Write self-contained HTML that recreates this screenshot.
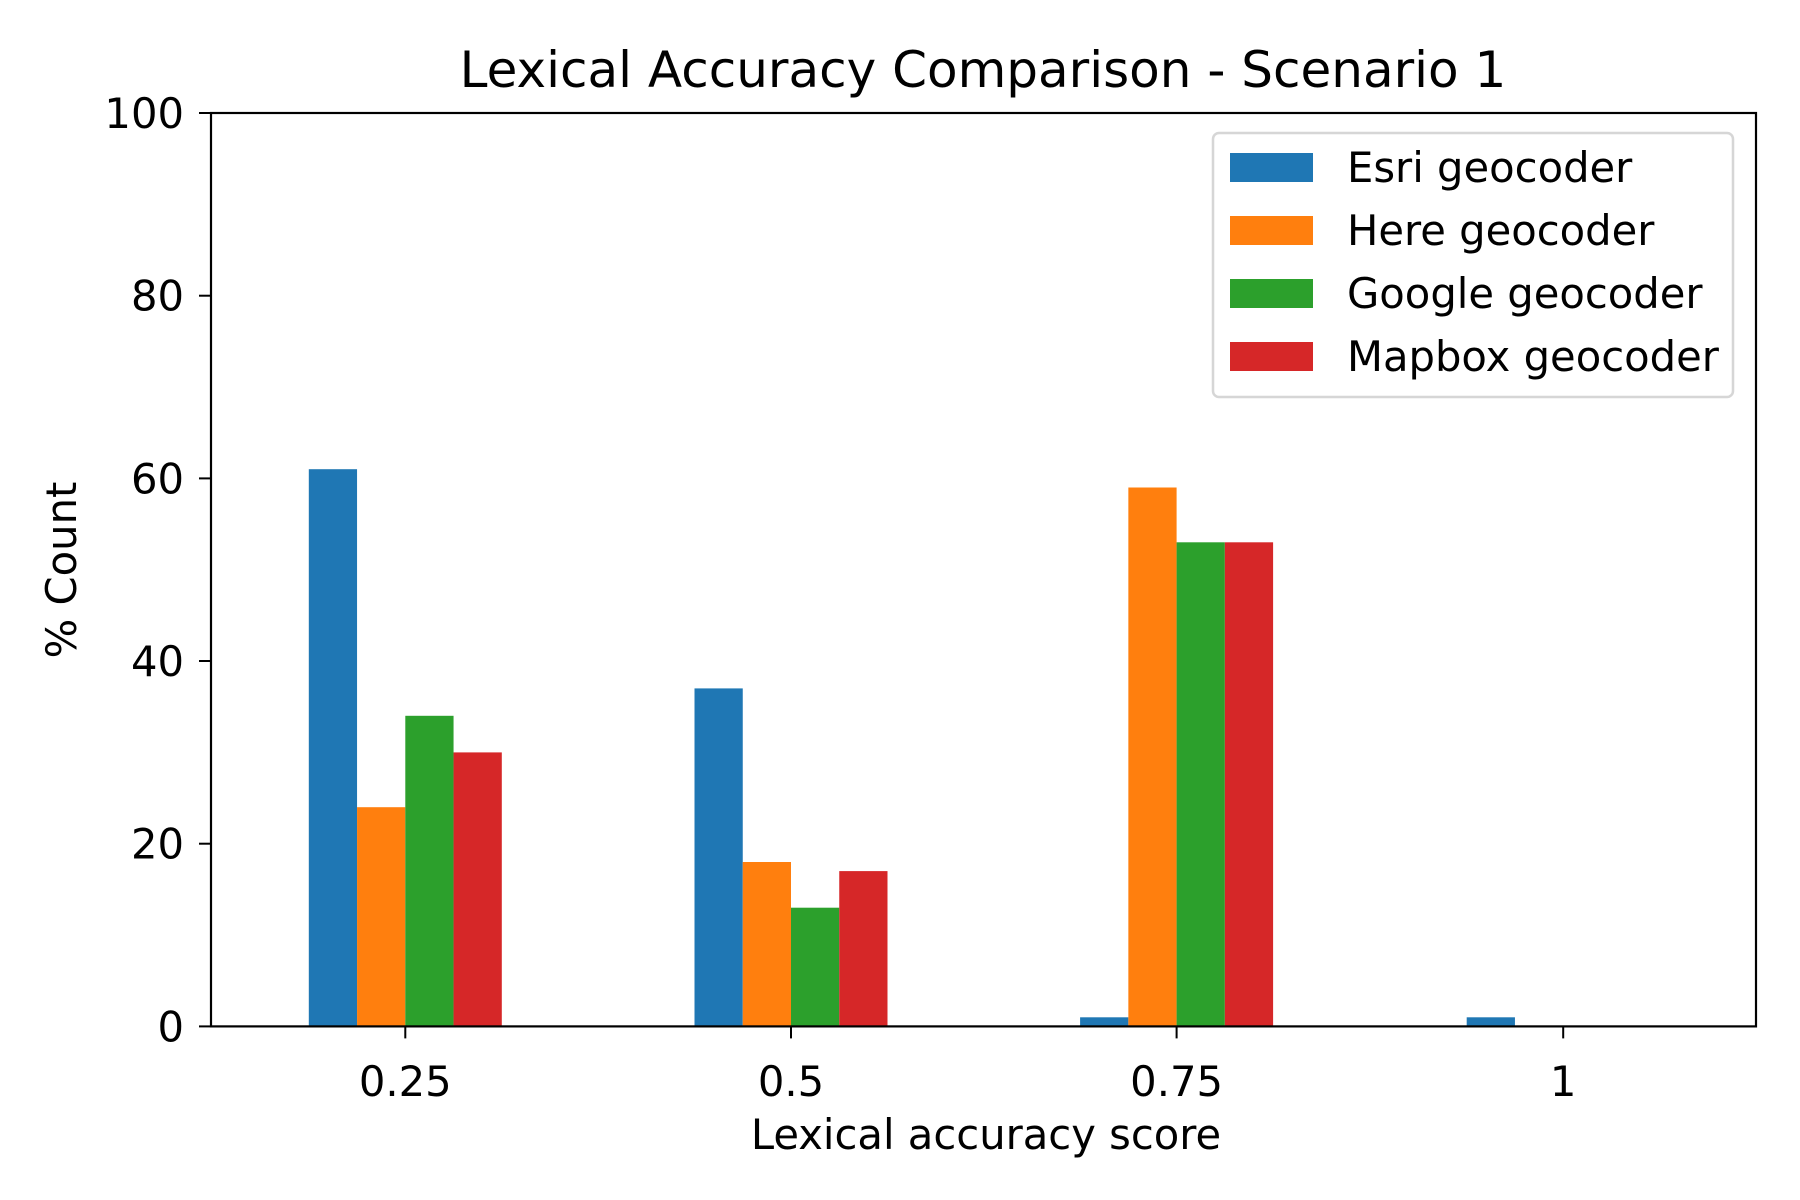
<!DOCTYPE html>
<html><head><meta charset="utf-8"><style>html,body{margin:0;padding:0;background:#fff}svg{display:block}text{font-family:"DejaVu Sans","Liberation Sans",sans-serif;fill:#000}</style></head>
<body>
<svg width="1800" height="1200" viewBox="0 0 1800 1200" xmlns="http://www.w3.org/2000/svg">
<rect width="1800" height="1200" fill="#fff"/>
<text x="983" y="87" font-size="50" text-anchor="middle">Lexical Accuracy Comparison - Scenario 1</text>
<g>
<rect x="308.8" y="469.2" width="48.25" height="557.2" fill="#1f77b4"/>
<rect x="357.05" y="807.2" width="48.25" height="219.2" fill="#ff7f0e"/>
<rect x="405.3" y="715.8" width="48.25" height="310.6" fill="#2ca02c"/>
<rect x="453.55" y="752.4" width="48.25" height="274" fill="#d62728"/>

<rect x="694.5" y="688.4" width="48.25" height="338" fill="#1f77b4"/>
<rect x="742.75" y="862" width="48.25" height="164.4" fill="#ff7f0e"/>
<rect x="791" y="907.7" width="48.25" height="118.7" fill="#2ca02c"/>
<rect x="839.25" y="871.1" width="48.25" height="155.3" fill="#d62728"/>

<rect x="1080.1" y="1017.3" width="48.25" height="9.1" fill="#1f77b4"/>
<rect x="1128.35" y="487.5" width="48.25" height="538.9" fill="#ff7f0e"/>
<rect x="1176.6" y="542.3" width="48.25" height="484.1" fill="#2ca02c"/>
<rect x="1224.85" y="542.3" width="48.25" height="484.1" fill="#d62728"/>

<rect x="1466.7" y="1017.3" width="48.25" height="9.1" fill="#1f77b4"/>
</g>
<rect x="211" y="113" width="1545" height="913.4" fill="none" stroke="#000" stroke-width="2.2"/>
<g stroke="#000" stroke-width="2">
<line x1="199" y1="1026.4" x2="211" y2="1026.4"/>
<line x1="199" y1="843.7" x2="211" y2="843.7"/>
<line x1="199" y1="661" x2="211" y2="661"/>
<line x1="199" y1="478.4" x2="211" y2="478.4"/>
<line x1="199" y1="295.7" x2="211" y2="295.7"/>
<line x1="199" y1="113" x2="211" y2="113"/>
<line x1="405.3" y1="1026.4" x2="405.3" y2="1038.4"/>
<line x1="791" y1="1026.4" x2="791" y2="1038.4"/>
<line x1="1176.6" y1="1026.4" x2="1176.6" y2="1038.4"/>
<line x1="1563.2" y1="1026.4" x2="1563.2" y2="1038.4"/>
</g>
<g font-size="41.7" text-anchor="end">
<text x="184" y="1041.4">0</text>
<text x="184" y="858.7">20</text>
<text x="184" y="676">40</text>
<text x="184" y="493.4">60</text>
<text x="184" y="310.7">80</text>
<text x="184" y="128">100</text>
</g>
<g font-size="41.7" text-anchor="middle">
<text x="405.3" y="1096">0.25</text>
<text x="791" y="1096">0.5</text>
<text x="1176.6" y="1096">0.75</text>
<text x="1563.2" y="1096">1</text>
</g>
<text x="986" y="1149" font-size="41.7" text-anchor="middle">Lexical accuracy score</text>
<text transform="translate(76,570) rotate(-90)" font-size="41.7" text-anchor="middle">% Count</text>
<rect x="1213" y="133" width="520" height="264" rx="6" fill="#fff" fill-opacity="0.8" stroke="#d6d6d6" stroke-width="2.5"/>
<rect x="1230" y="153" width="83" height="29" fill="#1f77b4"/>
<rect x="1230" y="216" width="83" height="29" fill="#ff7f0e"/>
<rect x="1230" y="279" width="83" height="29" fill="#2ca02c"/>
<rect x="1230" y="342" width="83" height="29" fill="#d62728"/>
<g font-size="41.7">
<text x="1347" y="182">Esri geocoder</text>
<text x="1347" y="245">Here geocoder</text>
<text x="1347" y="308">Google geocoder</text>
<text x="1347" y="371">Mapbox geocoder</text>
</g>
</svg>
</body></html>
